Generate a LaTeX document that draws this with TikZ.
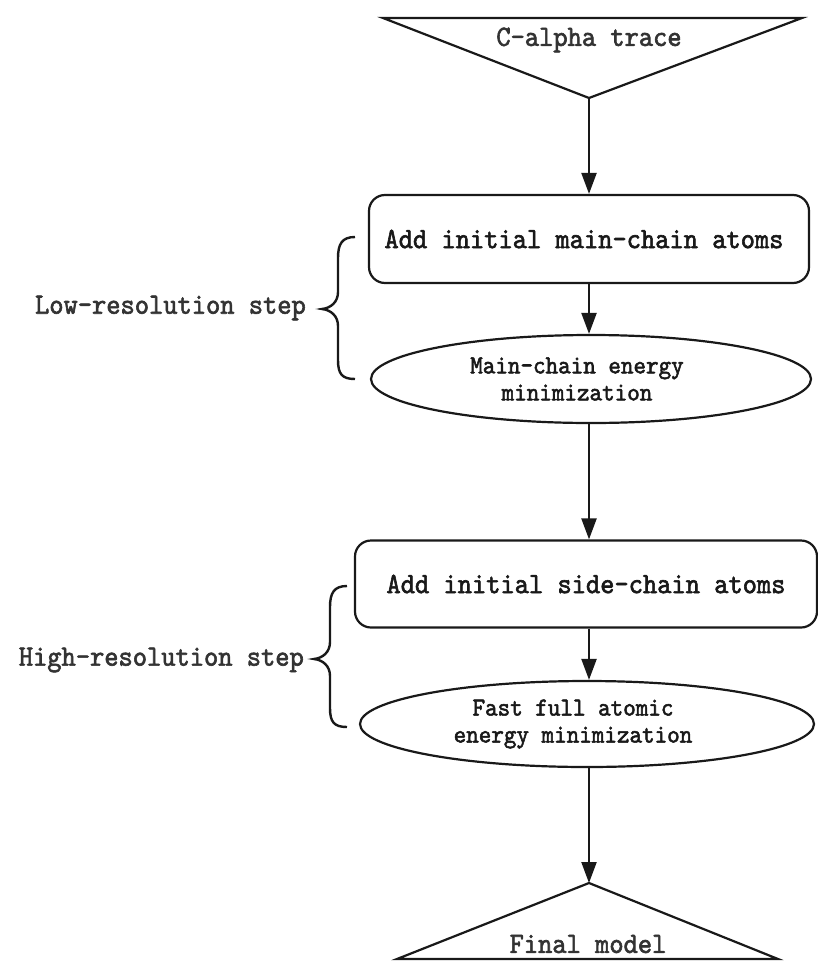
\documentclass[tikz,border=0pt]{standalone}
\usepackage{fontspec}
\newfontfamily\dfont{lmmono10-regular.otf}[FakeStretch=0.92,FakeBold=2]
\usetikzlibrary{arrows.meta,shapes.geometric}
\newcommand\padr{\hspace*{28pt}}
\begin{document}
\begin{tikzpicture}[x=1pt,y=-1pt,
  every node/.style={font=\dfont\fontsize{29.5}{27}\selectfont, text=black!80},
  ln/.style={line width=2.2pt, black!90},
  arr/.style={ln, -{Triangle[length=21pt,width=15pt]}},
  boxnode/.style={draw, ln, rounded corners=16pt, minimum height=88pt, inner sep=0pt},
  ellnode/.style={draw, ln, ellipse, inner sep=0pt, align=center, font=\dfont\fontsize{26}{27}\selectfont},
  lbl/.style={anchor=east, inner sep=0pt},
  brc/.style={line width=2.4pt, black!90}]
\useasboundingbox (0,0) rectangle (817,963);
% top triangle
\draw[ln, line join=miter] (383,18) -- (802,18) -- (589,98) -- cycle;
\node (t1) at (589,40) {C-alpha trace};
\coordinate (tapex) at (589,98);
% boxes and ellipses
\node[boxnode, minimum width=440pt] (b1) at (589,239) {Add initial main-chain atoms\hspace*{10pt}};
\node[ellnode, minimum width=440pt, minimum height=88pt] (e1) at (591,379) {Main-chain energy\padr\\minimization\padr};
\node[boxnode, minimum width=462pt, minimum height=87pt] (b2) at (586,584) {Add initial side-chain atoms};
\node[ellnode, minimum width=454pt, minimum height=86pt] (e2) at (587,724) {Fast full atomic\padr\\energy minimization\padr};
% bottom triangle
\coordinate (bapex) at (589,883);
\draw[ln, line join=miter] (397,959) -- (bapex) -- (778,959) -- cycle;
\node (t2) at (588,944) {Final model};
% arrows
\draw[arr] (tapex) -- (tapex |- b1.north);
\draw[arr] (tapex |- b1.south) -- (tapex |- e1.north);
\draw[arr] (tapex |- e1.south) -- (tapex |- b2.north);
\draw[arr] (tapex |- b2.south) -- (tapex |- e2.north);
\draw[arr] (tapex |- e2.south) -- (bapex);
% braces
\coordinate (br1) at (322,309);
\draw[brc] (355,237) .. controls (342,237) and (338,244) .. (338,258) -- (338,292)
  .. controls (338,302) and (331,308) .. (br1)
  .. controls (331,310) and (338,316) .. (338,326) -- (338,360)
  .. controls (338,374) and (342,379) .. (355,379);
\node[lbl] (l1) at (306,308) {Low-resolution step};
\coordinate (br2) at (314,659);
\draw[brc] (347,586) .. controls (334,586) and (330,593) .. (330,607) -- (330,642)
  .. controls (330,652) and (323,658) .. (br2)
  .. controls (323,660) and (330,666) .. (330,676) -- (330,708)
  .. controls (330,722) and (334,727) .. (347,727);
\node[lbl] (l2) at (304,660) {High-resolution step};
\end{tikzpicture}
\end{document}
